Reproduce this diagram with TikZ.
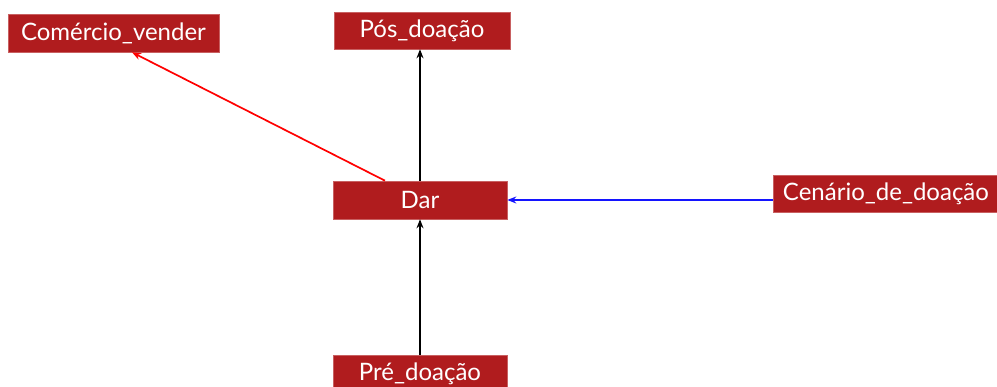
\documentclass[tikz,border=0pt]{standalone}
\usepackage{fontspec}
\setmainfont{Lato}
\usetikzlibrary{arrows.meta}
\definecolor{boxred}{RGB}{176,28,30}
\definecolor{arrblue}{RGB}{20,20,255}
\begin{document}
\begin{tikzpicture}[x=1pt,y=-1pt,
  box/.style={draw=boxred!70!white, line width=0.6pt, fill=boxred, text=white, font=\fontsize{24}{26}\selectfont, inner sep=0pt, anchor=center},
  conn/.style={line width=1.7pt, -{Stealth[length=9pt,width=7pt]}}]
\useasboundingbox (0,0) rectangle (997,387);
\begin{scope}
\clip (0,0) rectangle (997,387);
\node[box, minimum width=211pt, minimum height=38pt] (com) at (113.5,33) {Comércio\_vender};
\node[box, minimum width=176pt, minimum height=37pt] (pos) at (422,30.5) {Pós\_doação};
\node[box, minimum width=174pt, minimum height=38pt] (dar) at (420,200) {Dar};
\node[box, minimum width=226pt, minimum height=37pt] (cen) at (886,193.5) {Cenário\_de\_doação};
\node[box, minimum width=174pt, minimum height=38pt] (pre) at (420,374) {Pré\_doação};
\end{scope}
\draw[conn, red] ([xshift=-35pt]dar.north) -- ([xshift=18.5pt]com.south);
\draw[conn, black] (dar.north) -- ([xshift=-2pt]pos.south);
\draw[conn, black] (pre.north) -- (dar.south);
\draw[conn, arrblue] (cen.west |- dar.east) -- (dar.east);
\end{tikzpicture}
\end{document}
